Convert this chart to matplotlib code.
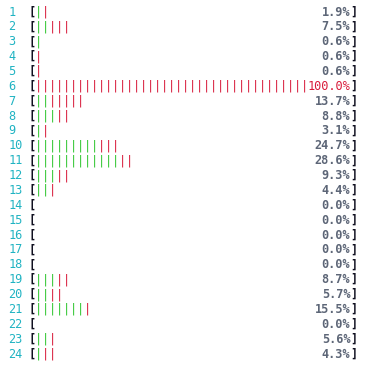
import matplotlib
matplotlib.use("Agg")
import matplotlib.pyplot as plt

# htop-style per-CPU meter: number of green (user) and red (kernel) ticks per core
cpus = list(range(1, 25))
user_ticks = [1, 2, 1, 0, 0, 0, 2, 3, 1, 9, 12, 3, 2, 0, 0, 0, 0, 0, 3, 2, 7, 0, 2, 1]
sys_ticks = [1, 3, 0, 1, 1, 39, 5, 2, 1, 3, 2, 2, 1, 0, 0, 0, 0, 0, 2, 2, 1, 0, 1, 2]
percents = [1.9, 7.5, 0.6, 0.6, 0.6, 100.0, 13.7, 8.8, 3.1, 24.7, 28.6, 9.3, 4.4,
            0.0, 0.0, 0.0, 0.0, 0.0, 8.7, 5.7, 15.5, 0.0, 5.6, 4.3]

GREEN = "#2ec52e"
RED = "#d81a3a"
CYAN = "#1fb3c2"
GRAY = "#5d6677"
FONT = "DejaVu Sans Mono"
FS = 8.6

fig = plt.figure(figsize=(3.66, 3.65), dpi=100)
ax = fig.add_axes([0, 0, 1, 1])
ax.axis("off")

# one column = 7 px, first column centred at x=10 px; rows 14.87 px apart
ax.set_xlim(-10 / 7, (366 - 10) / 7)
ax.set_ylim(1 + (365 - 12) / 14.87, 1 - 12 / 14.87)

BAR_START = 4   # first column inside the bracket
CLOSE_COL = 49  # column of the closing bracket

for cpu, u, s, p in zip(cpus, user_ticks, sys_ticks, percents):
    ax.text(-0.2, cpu, str(cpu), color=CYAN, family=FONT, fontsize=FS,
            ha="left", va="center")
    ax.text(3.1, cpu, "[", color="#101020", family=FONT, fontsize=FS,
            fontweight="bold", ha="center", va="center")
    colors = [GREEN] * u + [RED] * s
    for i, c in enumerate(colors):
        ax.text(BAR_START + i, cpu, "|", color=c, family=FONT, fontsize=FS,
                ha="center", va="center")
    label = f"{p:.1f}%"
    full = p >= 100
    ax.text(CLOSE_COL - 0.4, cpu, label, color=RED if full else GRAY,
            family=FONT, fontsize=FS, fontweight="normal" if full else "bold",
            ha="right", va="center")
    ax.text(CLOSE_COL + 0.1, cpu, "]", color="#101020", family=FONT, fontsize=FS,
            fontweight="bold", ha="center", va="center")

fig.savefig("out.png", dpi=100)
